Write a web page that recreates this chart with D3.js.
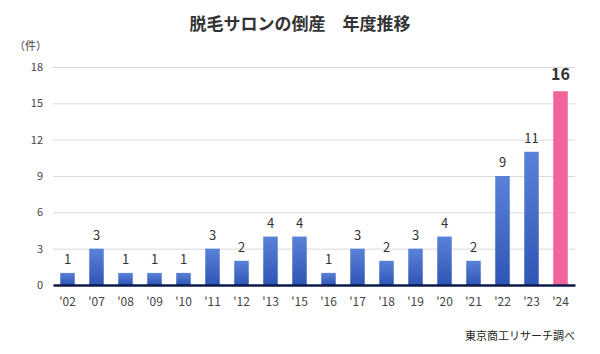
<!DOCTYPE html>
<html>
<head>
<meta charset="utf-8">
<script src="https://cdn.jsdelivr.net/npm/d3@7"></script>
<style>
  body { margin: 0; background: #fff; }
  text { font-family: "Noto Sans CJK JP", "Noto Sans", sans-serif; }
</style>
</head>
<body>
<svg id="chart"></svg>
<script>
const years = ["'02", "'07", "'08", "'09", "'10", "'11", "'12", "'13", "'15", "'16", "'17", "'18", "'19", "'20", "'21", "'22", "'23", "'24"];
const counts = [1, 3, 1, 1, 1, 3, 2, 4, 4, 1, 3, 2, 3, 4, 2, 9, 11, 16];
const yTicks = [0, 3, 6, 9, 12, 15, 18];
const titleText = "脱毛サロンの倒産　年度推移";
const unitText = "（件）";
const sourceText = "東京商工リサーチ調べ";

const width = 600, height = 354;
const margin = {top: 67, right: 25, bottom: 69, left: 53};
const innerW = width - margin.left - margin.right;
const innerH = height - margin.top - margin.bottom;

const svg = d3.select('#chart')
    .attr('width', width)
    .attr('height', height);

// gradients for the bars
const defs = svg.append('defs');
const blue = defs.append('linearGradient').attr('id', 'blueGrad')
    .attr('x1', 0).attr('y1', 0).attr('x2', 0).attr('y2', 1);
blue.append('stop').attr('offset', '0%').attr('stop-color', '#5b82d9');
blue.append('stop').attr('offset', '100%').attr('stop-color', '#2f55b6');

const x = d3.scaleBand()
    .domain(years)
    .range([0, innerW])
    .paddingInner(0.5)
    .paddingOuter(0.25);

const y = d3.scaleLinear()
    .domain([0, 18])
    .range([innerH, 0]);

const g = svg.append('g')
    .attr('transform', `translate(${margin.left},${margin.top})`);

// Title
svg.append('text')
    .attr('x', 300)
    .attr('y', 30)
    .attr('text-anchor', 'middle')
    .style('font-size', '17px')
    .style('font-weight', 'bold')
    .attr('fill', '#333')
    .text(titleText);

// unit label
svg.append('text')
    .attr('x', 14)
    .attr('y', 50)
    .style('font-size', '11px')
    .attr('fill', '#444')
    .text(unitText);

// gridlines + y axis
const yAxis = d3.axisLeft(y).tickValues(yTicks).tickSize(-innerW).tickPadding(10);
const yAxisG = g.append('g').call(yAxis);
yAxisG.select('.domain').remove();
yAxisG.selectAll('.tick line').attr('stroke', '#d9d9d9');
yAxisG.selectAll('.tick text')
    .style('font-size', '11px')
    .attr('fill', '#444');

// bars
g.selectAll('rect.bar')
    .data(counts)
    .join('rect')
    .attr('class', 'bar')
    .attr('x', (d, i) => x(years[i]))
    .attr('y', d => y(d))
    .attr('width', x.bandwidth())
    .attr('height', d => innerH - y(d))
    .attr('fill', (d, i) => i === counts.length - 1 ? '#f0649b' : 'url(#blueGrad)');

// value labels
g.selectAll('text.val')
    .data(counts)
    .join('text')
    .attr('class', 'val')
    .attr('x', (d, i) => x(years[i]) + x.bandwidth() / 2)
    .attr('y', (d, i) => y(d) - (i === counts.length - 1 ? 11 : 9))
    .attr('text-anchor', 'middle')
    .style('font-size', (d, i) => i === counts.length - 1 ? '16px' : '13px')
    .style('font-weight', (d, i) => i === counts.length - 1 ? 'bold' : 'normal')
    .attr('fill', '#333')
    .text(d => d);

// x axis
const xAxis = d3.axisBottom(x).tickSize(0).tickPadding(12);
const xAxisG = g.append('g')
    .attr('transform', `translate(0,${innerH})`)
    .call(xAxis);
xAxisG.select('.domain').attr('stroke', '#0d1a4a').attr('stroke-width', 2.5);
xAxisG.selectAll('.tick text')
    .style('font-size', '12px')
    .attr('fill', '#444');

// source
svg.append('text')
    .attr('x', 575)
    .attr('y', 340)
    .attr('text-anchor', 'end')
    .style('font-size', '11px')
    .attr('fill', '#222')
    .text(sourceText);
</script>
</body>
</html>
